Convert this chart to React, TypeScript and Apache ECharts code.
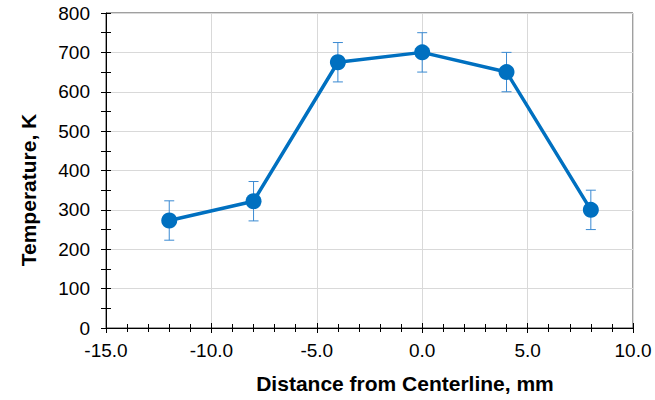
import React, { useEffect, useRef } from "react";
import * as echarts from "echarts";

const distances = [-12, -8, -4, 0, 4, 8];
const temperatures = [273, 322, 675, 700, 650, 300];
const errors = [50, 50, 50, 50, 50, 50];
const xTitle = "Distance from Centerline, mm";
const yTitle = "Temperature, K";

const FONT = "'Liberation Sans', Arial, sans-serif";

export default function App() {
  const ref = useRef<HTMLDivElement>(null);
  useEffect(() => {
    const chart = echarts.init(ref.current!, null, { renderer: "svg" });
    const points = distances.map((d, i) => [d, temperatures[i]]);
    const errData = distances.map((d, i) => [d, temperatures[i] - errors[i], temperatures[i] + errors[i]]);
    const gridL = 106, gridR = 22, gridT = 13, gridB = 72;
    const tickStyle = { color: "#000", width: 1 };
    chart.setOption({
      animation: false,
      backgroundColor: "#fff",
      grid: { left: gridL, right: gridR, top: gridT, bottom: gridB, show: true, borderColor: "#404040", borderWidth: 1 },
      xAxis: [
        {
          type: "value", min: -15, max: 10, interval: 5,
          axisLine: { show: true, onZero: false, lineStyle: { color: "#000", width: 1 } },
          axisTick: { show: true, length: 5, inside: false, lineStyle: tickStyle },
          minorTick: { show: true, splitNumber: 5, length: 4, lineStyle: tickStyle },
          axisLabel: { formatter: (v: number) => v.toFixed(1), color: "#000", fontFamily: FONT, fontSize: 19, margin: 13 },
          splitLine: { show: true, lineStyle: { color: "#D9D9D9", width: 1 } },
        },
        {
          type: "value", min: -15, max: 10, interval: 5, position: "bottom",
          axisLine: { show: false, onZero: false },
          axisTick: { show: true, length: 5, inside: true, lineStyle: tickStyle },
          minorTick: { show: true, splitNumber: 5, length: 4, lineStyle: tickStyle },
          axisLabel: { show: false },
          splitLine: { show: false },
        },
      ],
      yAxis: [
        {
          type: "value", min: 0, max: 800, interval: 100,
          axisLine: { show: true, onZero: false, lineStyle: { color: "#000", width: 1 } },
          axisTick: { show: true, length: 5, inside: false, lineStyle: tickStyle },
          minorTick: { show: true, splitNumber: 2, length: 5, lineStyle: tickStyle },
          axisLabel: { color: "#000", fontFamily: FONT, fontSize: 19, margin: 16 },
          splitLine: { show: true, lineStyle: { color: "#D9D9D9", width: 1 } },
        },
        {
          type: "value", min: 0, max: 800, interval: 100, position: "left",
          axisLine: { show: false, onZero: false },
          axisTick: { show: true, length: 5, inside: true, lineStyle: tickStyle },
          minorTick: { show: true, splitNumber: 2, length: 5, lineStyle: tickStyle },
          axisLabel: { show: false },
          splitLine: { show: false },
        },
      ],
      graphic: [
        {
          type: "text", x: 405, y: 383,
          style: { text: xTitle, fontFamily: FONT, fontSize: 21, fontWeight: "bold", fill: "#000", align: "center", verticalAlign: "middle" },
        },
        {
          type: "text", x: 28, y: 190, rotation: Math.PI / 2,
          style: { text: yTitle, fontFamily: FONT, fontSize: 21, fontWeight: "bold", fill: "#000", align: "center", verticalAlign: "middle" },
        },
      ],
      series: [
        {
          type: "custom",
          data: errData,
          z: 1,
          renderItem: (params: any, api: any) => {
            const x = api.value(0);
            const lo = api.coord([x, api.value(1)]);
            const hi = api.coord([x, api.value(2)]);
            const cap = 5;
            const style = { stroke: "#3A8AD2", lineWidth: 1 };
            return {
              type: "group",
              children: [
                { type: "line", shape: { x1: lo[0], y1: lo[1], x2: hi[0], y2: hi[1] }, style },
                { type: "line", shape: { x1: lo[0] - cap, y1: lo[1], x2: lo[0] + cap, y2: lo[1] }, style },
                { type: "line", shape: { x1: hi[0] - cap, y1: hi[1], x2: hi[0] + cap, y2: hi[1] }, style },
              ],
            };
          },
        },
        {
          type: "line",
          data: points,
          z: 3,
          symbol: "circle",
          symbolSize: 16,
          lineStyle: { color: "#0070C0", width: 3.5 },
          itemStyle: { color: "#0070C0" },
        },
      ],
    });
    return () => chart.dispose();
  }, []);
  return <div ref={ref} style={{ width: 655, height: 400, position: "absolute", left: 0, top: 0 }} />;
}
